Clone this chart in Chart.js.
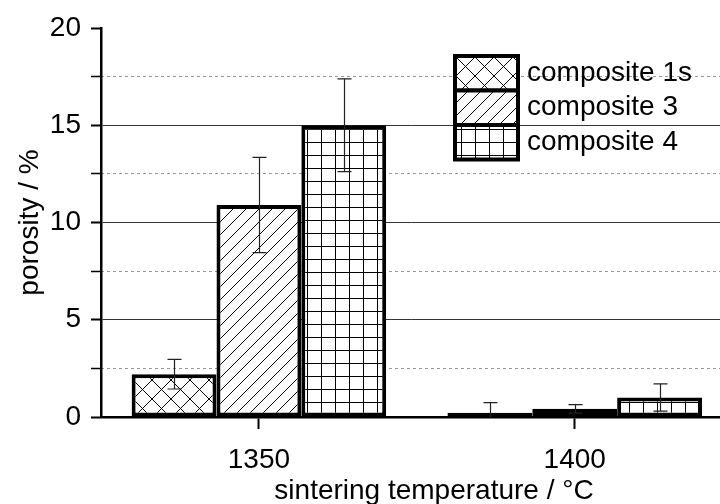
<!DOCTYPE html>
<html>
<head>
<meta charset="utf-8">
<script src="https://cdn.jsdelivr.net/npm/chart.js@4"></script>
<style>
html, body { margin: 0; padding: 0; background: #fff; }
#wrap { width: 720px; height: 504px; }
</style>
</head>
<body>
<div id="wrap"><canvas id="porosity"></canvas></div>
<script>
// data
var temps = [1350, 1400];
var xTicks = [1350, 1400];
var yTicks = [0, 5, 10, 15, 20];
var seriesNames = ['composite 1s', 'composite 3', 'composite 4'];
var comp1s = [2.2, 0.22];
var comp3 = [10.9, 0.42];
var comp4 = [15.0, 1.0];
var err1s = [0.76, 0.52];
var err3 = [2.45, 0.22];
var err4 = [2.38, 0.7];
var xTitle = 'sintering temperature / °C';

var FONT = '"Liberation Sans", Arial, sans-serif';
Chart.defaults.font.family = FONT;
Chart.defaults.color = '#000';

// hatch fills like the old plotting program
function hatch(kind) {
    var w = kind == 'grid' ? 14 : (kind == 'cross' ? 19 : 13);
    var h = kind == 'grid' ? 13 : w;
    var c = document.createElement('canvas');
    c.width = w; c.height = h;
    var g = c.getContext('2d');
    g.fillStyle = '#fff';
    g.fillRect(0, 0, w, h);
    g.strokeStyle = '#000';
    g.lineWidth = 1;
    g.beginPath();
    if (kind == 'grid') {
        g.moveTo(w - 0.5, 0); g.lineTo(w - 0.5, h);
        g.moveTo(0, h - 0.5); g.lineTo(w, h - 0.5);
    } else {
        [-w, 0, w].forEach(function(o) {
            g.moveTo(o, h); g.lineTo(o + w, 0);           // '/'
            if (kind == 'cross') { g.moveTo(o, 0); g.lineTo(o + w, h); } // '\'
        });
    }
    g.stroke();
    return g.createPattern(c, 'repeat');
}

var fills = [hatch('cross'), hatch('diag'), hatch('grid')];
var values = [comp1s, comp3, comp4];
var errors = [err1s, err3, err4];

var datasets = seriesNames.map(function(name, i) {
    return {
        label: name,
        data: temps.map(function(t, j) { return {x: t, y: values[i][j]}; }),
        errors: errors[i],
        backgroundColor: fills[i],
        borderColor: '#000',
        borderWidth: 4,
        borderSkipped: false,
        categoryPercentage: 0.806,
        barPercentage: 1
    };
});

var errorBars = {
    id: 'errorBars',
    afterDatasetsDraw: function(chart) {
        var ctx = chart.ctx, y = chart.scales.y;
        ctx.save();
        ctx.strokeStyle = '#222';
        ctx.lineWidth = 1.2;
        chart.data.datasets.forEach(function(ds, i) {
            chart.getDatasetMeta(i).data.forEach(function(bar, j) {
                var v = ds.data[j].y, e = ds.errors[j];
                var x = Math.round(bar.x) + 0.5;
                var top = y.getPixelForValue(v + e);
                var bot = y.getPixelForValue(Math.max(v - e, 0));
                ctx.beginPath();
                ctx.moveTo(x, top); ctx.lineTo(x, bot);
                ctx.moveTo(x - 7, top); ctx.lineTo(x + 7, top);
                if (v - e > 0) { ctx.moveTo(x - 7, bot); ctx.lineTo(x + 7, bot); }
                ctx.stroke();
            });
        });
        ctx.restore();
    }
};

// legend boxes inside the plot + x title (sits right of centre in the original)
var boxLegend = {
    id: 'boxLegend',
    afterDraw: function(chart) {
        var ctx = chart.ctx;
        ctx.save();
        ctx.font = '28px ' + FONT;
        ctx.textBaseline = 'middle';
        chart.data.datasets.forEach(function(ds, i) {
            var top = 56 + i * 34.5;
            ctx.fillStyle = ds.backgroundColor;
            ctx.fillRect(455, top, 63, 34.5);
            ctx.lineWidth = 4;
            ctx.strokeStyle = '#000';
            ctx.strokeRect(455, top, 63, 34.5);
            ctx.fillStyle = '#000';
            ctx.fillText(ds.label, 527, top + 17);
        });
        ctx.textAlign = 'center';
        ctx.textBaseline = 'alphabetic';
        ctx.fillText(xTitle, 434, 499);
        ctx.restore();
    }
};

var ctx = document.getElementById('porosity').getContext('2d');
var porosityChart = new Chart(ctx, {
    type: 'bar',
    data: { datasets: datasets },
    plugins: [errorBars, boxLegend],
    options: {
        responsive: true,
        maintainAspectRatio: false,
        animation: false,
        layout: { padding: { top: 28, right: 0, bottom: 0, left: 0 } },
        plugins: { legend: { display: false }, tooltip: { enabled: false } },
        scales: {
            x: {
                type: 'linear',
                offset: false,
                min: 1325,
                max: 1423,
                afterBuildTicks: function(ax) { ax.ticks = xTicks.map(function(v) { return {value: v}; }); },
                afterFit: function(ax) { ax.height = 87; },
                ticks: {
                    callback: function(v) { return String(v); },
                    font: { size: 28 },
                    padding: 14,
                    maxRotation: 0,
                    autoSkip: false
                },
                grid: { offset: false, drawOnChartArea: false, drawTicks: true, tickLength: 12, tickWidth: 2, tickColor: '#000' },
                border: { color: '#000', width: 2.5 }
            },
            y: {
                min: 0,
                max: 20,
                afterFit: function(ax) { ax.width = 101; },
                ticks: {
                    stepSize: 2.5,
                    font: { size: 28 },
                    padding: 10,
                    callback: function(v) { return yTicks.indexOf(v) >= 0 ? String(v) : ''; }
                },
                grid: {
                    color: function(c) {
                        var v = c.tick.value;
                        return (v % 5 === 0 && v > 0 && v < 20) ? '#333' : 'rgba(0,0,0,0)';
                    },
                    lineWidth: 1,
                    tickLength: 10,
                    tickColor: '#000',
                    tickWidth: function(c) { return c.tick.value % 5 === 0 ? 2 : 1.5; }
                },
                border: { color: '#000', width: 2.5 },
                title: { display: true, text: 'porosity / %', font: { size: 28 }, padding: { top: 13, bottom: 0 } }
            },
            yMinor: {
                type: 'linear',
                position: 'left',
                min: 0,
                max: 20,
                afterFit: function(ax) { ax.width = 0; },
                ticks: { display: false, stepSize: 2.5 },
                grid: {
                    drawTicks: false,
                    color: function(c) { return c.tick.value % 5 === 0 ? 'rgba(0,0,0,0)' : '#999'; }
                },
                border: { display: false, dash: [3, 3] }
            }
        }
    }
});
</script>
</body>
</html>
